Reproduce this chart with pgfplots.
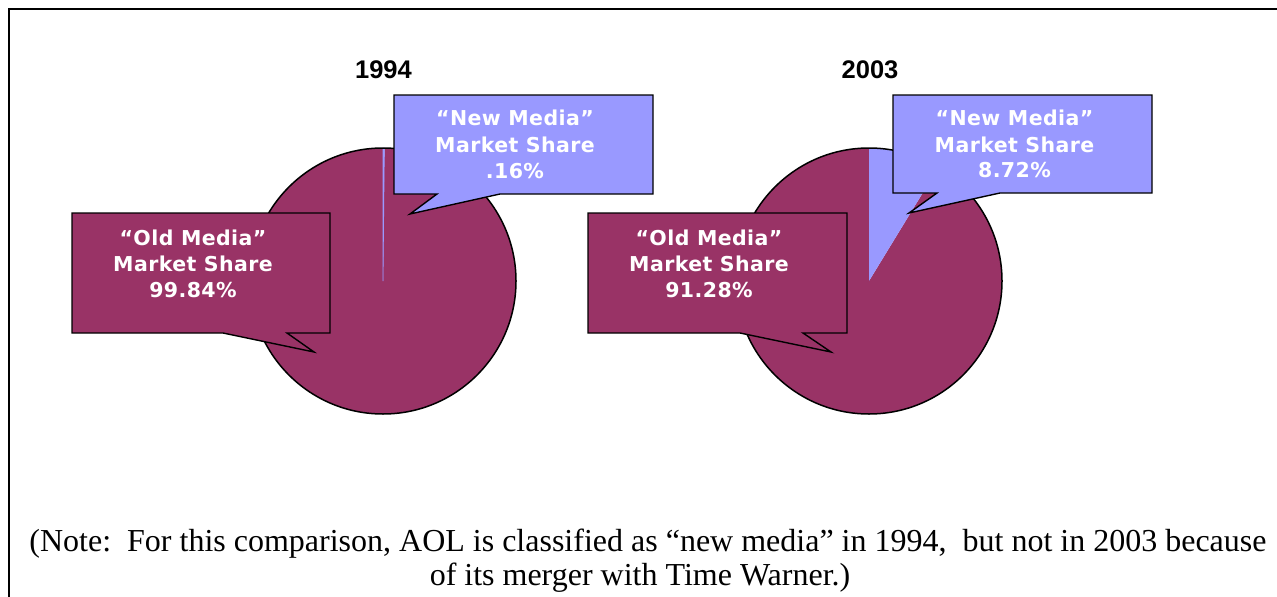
\documentclass[border=0pt]{standalone}
\usepackage{pgfplots}
\pgfplotsset{compat=1.18}
\usepackage{pgfplotstable}
\usepackage{fontspec}
\setmainfont{Liberation Serif}
\newfontfamily\titlefont{Liberation Sans}
\newfontfamily\callfont[LetterSpace=2]{DejaVu Sans}
\definecolor{oldc}{HTML}{993366}
\definecolor{newc}{HTML}{9999FF}

\pgfplotstableread{
year old new
1994 99.84 0.16
2003 91.28 8.72
}\sharetable

\begin{document}
\begin{tikzpicture}
\pgfplotstablegetelem{0}{new}\of\sharetable
\pgfmathsetmacro\angA{90-3.6*\pgfplotsretval}
\pgfplotstablegetelem{1}{new}\of\sharetable
\pgfmathsetmacro\angB{90-3.6*\pgfplotsretval}
\begin{axis}[
  width=1277pt, height=597pt, scale only axis,
  xmin=0, xmax=1277, ymin=0, ymax=597,
  y dir=reverse, enlargelimits=false,
  hide axis, clip=false,
  at={(0,0)}, anchor=south west,
]
\coordinate (SW) at (axis cs:0,597);
\coordinate (NE) at (axis cs:1277,0);

% frame
\draw[line width=2.5pt] (axis cs:9,600) -- (axis cs:9,9) -- (axis cs:1280,9);

% titles
\node[anchor=base, font=\titlefont\bfseries\fontsize{25.5}{26}\selectfont] at (axis cs:383.5,78) {1994};
\node[anchor=base, font=\titlefont\bfseries\fontsize{25.5}{26}\selectfont] at (axis cs:870,78) {2003};

% pie 1994
\fill[oldc] (axis cs:383,281) -- ++(\angA:133pt) arc[start angle=\angA, end angle=-270, radius=133pt] -- cycle;
\filldraw[fill=newc, draw=newc, line width=0.7pt] (axis cs:383,281) -- ++(90:133pt) arc[start angle=90, end angle=\angA, radius=133pt] -- cycle;
\draw[line width=1.5pt] (axis cs:383,281) circle[radius=133pt];

% pie 2003
\fill[oldc] (axis cs:869,281) -- ++(\angB:133pt) arc[start angle=\angB, end angle=-270, radius=133pt] -- cycle;
\fill[newc] (axis cs:869,281) -- ++(90:133pt) arc[start angle=90, end angle=\angB, radius=133pt] -- cycle;
\draw[line width=1.5pt] (axis cs:869,281) circle[radius=133pt];

% callouts 1994
\filldraw[fill=oldc, draw=black, line width=1.4pt, line join=miter]
  (axis cs:72,213) -- (axis cs:330,213) -- (axis cs:330,333) -- (axis cs:287,333)
  -- (axis cs:314,352) -- (axis cs:223,333) -- (axis cs:72,333) -- cycle;
\filldraw[fill=newc, draw=black, line width=1.4pt, line join=miter]
  (axis cs:394,95) -- (axis cs:653,95) -- (axis cs:653,194) -- (axis cs:500,194)
  -- (axis cs:410,214) -- (axis cs:437,194) -- (axis cs:394,194) -- cycle;

% callouts 2003
\filldraw[fill=oldc, draw=black, line width=1.4pt, line join=miter]
  (axis cs:588,213) -- (axis cs:847,213) -- (axis cs:847,333) -- (axis cs:803,333)
  -- (axis cs:831,352) -- (axis cs:740,333) -- (axis cs:588,333) -- cycle;
\filldraw[fill=newc, draw=black, line width=1.4pt, line join=miter]
  (axis cs:893,95) -- (axis cs:1152,95) -- (axis cs:1152,193) -- (axis cs:1000,193)
  -- (axis cs:909,213) -- (axis cs:937,193) -- (axis cs:893,193) -- cycle;

% callout texts
\tikzset{ct/.style={anchor=base, text=white, font=\callfont\bfseries\fontsize{20.5}{20.5}\selectfont, inner sep=0pt}}
\node[ct] at (axis cs:193,245) {“Old Media”};
\node[ct] at (axis cs:193,271) {Market Share};
\node[ct] at (axis cs:193,297) {99.84\%};
\node[ct] at (axis cs:515,125) {“New Media”};
\node[ct] at (axis cs:515,152) {Market Share};
\node[ct] at (axis cs:515,178) {.16\%};
\node[ct] at (axis cs:709,245) {“Old Media”};
\node[ct] at (axis cs:709,271) {Market Share};
\node[ct] at (axis cs:709,297) {91.28\%};
\node[ct] at (axis cs:1014.5,125) {“New Media”};
\node[ct] at (axis cs:1014.5,152) {Market Share};
\node[ct] at (axis cs:1014.5,177) {8.72\%};

% note
\node[anchor=base, inner sep=0pt, font=\fontsize{32}{34}\selectfont] at (axis cs:648,551)
  {(Note:\ \ For this comparison, AOL is classified as “new media” in 1994,\ \ but not in 2003 because};
\node[anchor=base, inner sep=0pt, font=\fontsize{32}{34}\selectfont] at (axis cs:640,585)
  {of its merger with Time Warner.)};
\end{axis}
\pgfresetboundingbox
\useasboundingbox (SW) rectangle (NE);
\end{tikzpicture}
\end{document}
